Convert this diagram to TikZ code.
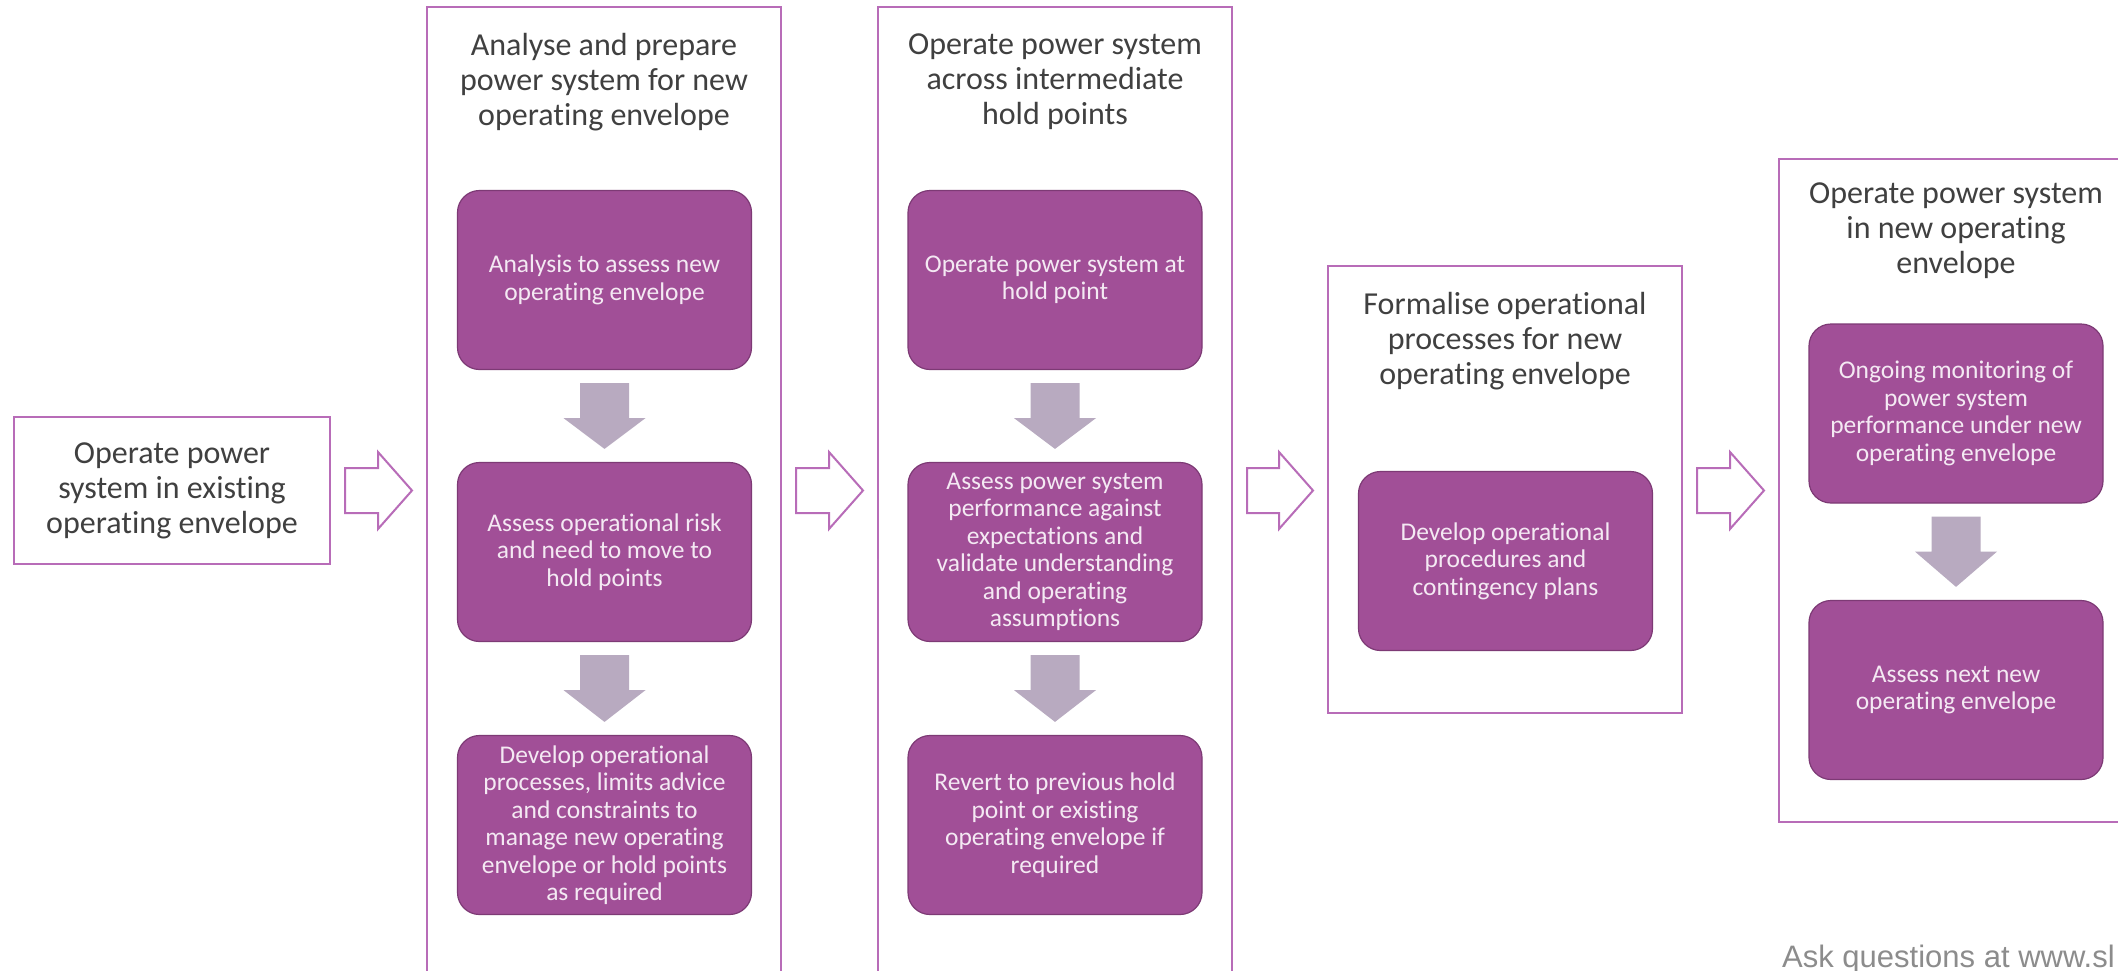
\documentclass[tikz,border=0pt]{standalone}
\usepackage{fontspec}
\setmainfont{Carlito}[Ligatures=NoCommon]
\newfontfamily\footfont{Liberation Sans}
\usetikzlibrary{calc}
\definecolor{frameline}{HTML}{B86CB8}
\definecolor{boxfill}{HTML}{A14F97}
\definecolor{boxline}{HTML}{7D3A75}
\definecolor{dnarrow}{HTML}{B8AAC0}
\definecolor{titlegray}{HTML}{404040}
\definecolor{boxtext}{HTML}{F4E9F3}
\definecolor{footgray}{HTML}{8C8C8C}
\tikzset{
  framebox/.style={draw=frameline, line width=2pt, inner sep=0pt},
  titletext/.style={text=titlegray, font=\fontsize{32}{35}\selectfont, align=center, inner sep=0pt},
  stepbox/.style={draw=boxline, line width=1.2pt, fill=boxfill, rounded corners=22pt,
    text=boxtext, font=\fontsize{25.5}{27.5}\selectfont, align=center,
    minimum width=294pt, minimum height=179pt, inner sep=0pt},
  downarrow/.style={fill=dnarrow},
  hollowarrow/.style={draw=frameline, fill=white, line width=2pt, line join=miter},
}
\newcommand{\vblockarrow}[2]{%
  \path[downarrow] ($(#1.south)+(-24.5,13)$) -- ($(#1.south)+(24.5,13)$)
    -- ($(#1.south)+(24.5,48)$) -- ($(#1.south)+(41,48)$)
    -- ($(#2.north)+(0,-13)$)
    -- ($(#1.south)+(-41,48)$) -- ($(#1.south)+(-24.5,48)$) -- cycle;}
\newcommand{\hblockarrow}[2]{%
  \path[hollowarrow] ($(#1.east|-start.center)+(14,-22.5)$)
    -- ($(#2.west|-start.center)+(-48,-22.5)$) -- ($(#2.west|-start.center)+(-48,-38.5)$)
    -- ($(#2.west|-start.center)+(-14,0)$)
    -- ($(#2.west|-start.center)+(-48,38.5)$) -- ($(#2.west|-start.center)+(-48,22.5)$)
    -- ($(#1.east|-start.center)+(14,22.5)$) -- cycle;}
\begin{document}
\begin{tikzpicture}[x=1pt,y=-1pt]
\useasboundingbox (0,0) rectangle (2118,970);
\clip (0,0) rectangle (2118,970);
\fill[white] (0,0) rectangle (2118,970);

% frames
\node[framebox, titletext, minimum width=316pt, minimum height=147pt] (start) at (172,490.5)
  {Operate power\\system in existing\\operating envelope};
\node[framebox, minimum width=354pt, minimum height=978pt] (c1) at (604,496) {};
\node[framebox, minimum width=354pt, minimum height=978pt] (c2) at (1055,496) {};
\node[framebox, minimum width=354pt, minimum height=447pt] (c3) at (1505,489.5) {};
\node[framebox, minimum width=354pt, minimum height=663pt] (c4) at (1956,490.5) {};

% titles
\node[titletext] (c1t) at (604,82) {Analyse and prepare\\power system for new\\operating envelope};
\node[titletext] (c2t) at (1055,82) {Operate power system\\across intermediate\\hold points};
\node[titletext] (c3t) at (1505,341) {Formalise operational\\processes for new\\operating envelope};
\node[titletext] (c4t) at (1956,231) {Operate power system\\in new operating\\envelope};

% steps column 1
\node[stepbox] (c1b1) at (604.5,280) {Analysis to assess new\\operating envelope};
\node[stepbox] (c1b2) at (604.5,552) {Assess operational risk\\and need to move to\\hold points};
\node[stepbox] (c1b3) at (604.5,825) {Develop operational\\processes, limits advice\\and constraints to\\manage new operating\\envelope or hold points\\as required};
% steps column 2
\node[stepbox] (c2b1) at (1055,280) {Operate power system at\\hold point};
\node[stepbox] (c2b2) at (1055,552) {Assess power system\\performance against\\expectations and\\validate understanding\\and operating\\assumptions};
\node[stepbox] (c2b3) at (1055,825) {Revert to previous hold\\point or existing\\operating envelope if\\required};
% column 3
\node[stepbox] (c3b1) at (1505.5,561) {Develop operational\\procedures and\\contingency plans};
% column 4
\node[stepbox] (c4b1) at (1956,413.5) {Ongoing monitoring of\\power system\\performance under new\\operating envelope};
\node[stepbox] (c4b2) at (1956,690) {Assess next new\\operating envelope};

% down arrows
\vblockarrow{c1b1}{c1b2}
\vblockarrow{c1b2}{c1b3}
\vblockarrow{c2b1}{c2b2}
\vblockarrow{c2b2}{c2b3}
\vblockarrow{c4b1}{c4b2}

% hollow arrows
\hblockarrow{start}{c1}
\hblockarrow{c1}{c2}
\hblockarrow{c2}{c3}
\hblockarrow{c3}{c4}

% footer
\node[anchor=base west, inner sep=0pt, text=footgray, font=\footfont\fontsize{31}{31}\selectfont] (foot) at (1782,967) {Ask questions at www.sl};
\end{tikzpicture}
\end{document}
